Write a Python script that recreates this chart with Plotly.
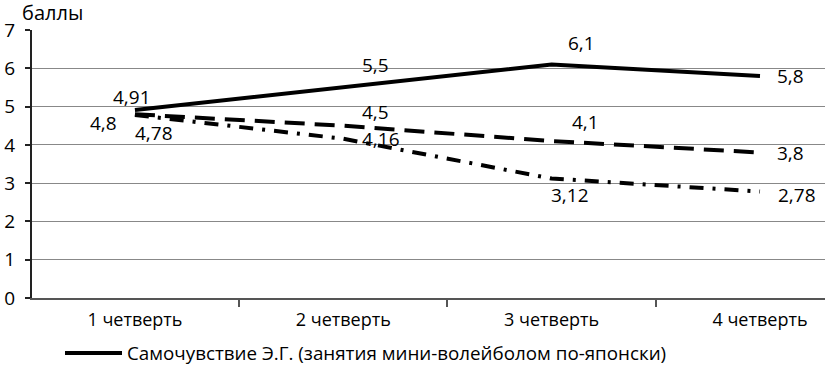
import plotly.graph_objects as go

categories = ["1 четверть", "2 четверть", "3 четверть", "4 четверть"]
solid_vals = [4.91, 5.5, 6.1, 5.8]
dashed_vals = [4.8, 4.5, 4.1, 3.8]
dashdot_vals = [4.78, 4.16, 3.12, 2.78]
legend_name = "Самочувствие Э.Г. (занятия мини-волейболом по-японски)"
y_title = "баллы"

# label pixel offsets (xshift, yshift) per point
solid_off = [(-3, 13), (32, 22), (30, 21), (31, 0)]
dashed_off = [(-31, -9), (32, 14), (34, 19), (31, 0)]
dashdot_off = [(19, -18), (38, 0), (18, -16), (37, -3)]

FONT = "Open Sans"
fig = go.Figure()
fig.add_trace(go.Scatter(x=categories, y=solid_vals, mode="lines", name=legend_name,
                         line=dict(color="black", width=4), showlegend=False))
fig.add_trace(go.Scatter(x=categories, y=dashed_vals, mode="lines",
                         line=dict(color="black", width=4, dash="20px,10px"), showlegend=False))
fig.add_trace(go.Scatter(x=categories, y=dashdot_vals, mode="lines",
                         line=dict(color="black", width=4, dash="14px,9px,3px,9px"), showlegend=False))

for vals, offs in [(solid_vals, solid_off), (dashed_vals, dashed_off), (dashdot_vals, dashdot_off)]:
    for c, v, (dx, dy) in zip(categories, vals, offs):
        fig.add_annotation(x=c, y=v, text=str(v).replace(".", ","), showarrow=False,
                           xshift=dx, yshift=dy, font=dict(size=19, color="black", family=FONT))

fig.add_annotation(xref="paper", yref="paper", x=(20-32)/793, y=1.0, yshift=18, xanchor="left", yanchor="middle",
                   text=y_title, showarrow=False, font=dict(size=20, color="black", family=FONT))

# legend drawn manually
fig.add_shape(type="line", xref="paper", yref="paper", x0=(65-32)/793, x1=(122-32)/793,
              y0=-55/268, y1=-55/268, line=dict(color="black", width=4))
fig.add_annotation(xref="paper", yref="paper", x=(125-32)/793, y=-55/268, xanchor="left", yanchor="middle",
                   text=legend_name, showarrow=False, font=dict(size=18.8, color="black", family=FONT))

fig.update_layout(
    width=825, height=366,
    margin=dict(l=32, r=0, t=30, b=68),
    paper_bgcolor="white", plot_bgcolor="white",
    font=dict(family=FONT, color="black"),
    xaxis=dict(type="category", range=[-0.494, 3.312], tickson="boundaries", automargin=False,
               ticks="outside", ticklen=7, tickcolor="#555", tickwidth=1.5,
               showline=True, linecolor="#555", linewidth=1.5, showgrid=False,
               tickfont=dict(size=18, family=FONT), ticklabelstandoff=5, zeroline=False),
    yaxis=dict(range=[0, 7], dtick=1, tickvals=[0, 1, 2, 3, 4, 5, 6, 7], automargin=False,
               ticks="outside", ticklen=5, tickcolor="#222", tickwidth=1.5,
               showline=True, linecolor="#222", linewidth=2, showgrid=True,
               gridcolor="#888", gridwidth=1.3, zeroline=False,
               tickfont=dict(size=19, family=FONT), ticklabelstandoff=6),
)
fig.write_html("out.html", config={"displayModeBar": False},
               post_script="document.body.style.margin='0';document.body.style.overflow='hidden';")
